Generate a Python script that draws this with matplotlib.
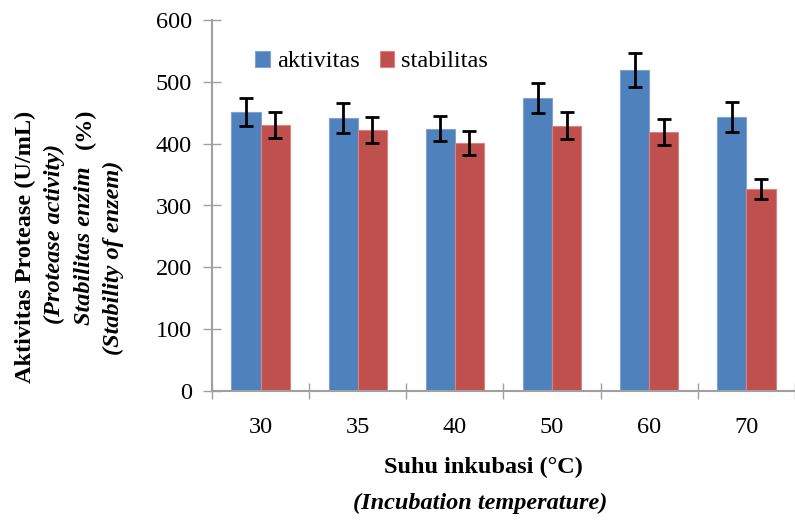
import matplotlib.pyplot as plt
import numpy as np

plt.rcParams['font.family'] = ['Liberation Serif', 'DejaVu Serif']

# data
suhu = ['30', '35', '40', '50', '60', '70']
aktivitas = [451, 442, 424, 474, 519, 443]
aktivitas_err = [23, 24, 20, 24, 27, 24]
stabilitas = [430, 422, 401, 429, 419, 327]
stabilitas_err = [21, 21, 19, 22, 21, 16]

x = np.arange(len(suhu))
w = 0.3
fs = 17.5

fig = plt.figure(figsize=(7.95, 5.2), dpi=100)
ax = fig.add_axes([212/795, 1 - 391/520, (795 - 212)/795, (391 - 20)/520])

err_kw = dict(ecolor='black', elinewidth=2, capsize=5, capthick=2)
ax.bar(x - w/2, aktivitas, w, yerr=aktivitas_err, color='#4F81BD',
       edgecolor='#7FA3D3', linewidth=0.8, label='aktivitas', error_kw=err_kw)
ax.bar(x + w/2, stabilitas, w, yerr=stabilitas_err, color='#C0504D',
       edgecolor='#D98482', linewidth=0.8, label='stabilitas', error_kw=err_kw)

ax.set_ylim(0, 600)
ax.set_yticks(range(0, 601, 100))
ax.set_xlim(-0.5, 5.45)
ax.set_xticks(x)
ax.set_xticklabels(suhu)
ax.set_xticks(np.arange(-0.5, 6, 1), minor=True)

for s in ['top', 'right']:
    ax.spines[s].set_visible(False)
for s in ['left', 'bottom']:
    ax.spines[s].set_color('#A0A0A0')
    ax.spines[s].set_linewidth(1.5)

ax.tick_params(axis='y', direction='inout', length=13, width=1, color='#A0A0A0',
               labelsize=fs, pad=8)
ax.tick_params(axis='x', which='major', length=0, labelsize=fs, pad=19)
ax.tick_params(axis='x', which='minor', direction='inout', length=12, width=1,
               color='#A0A0A0')

ax.legend(loc='upper left', bbox_to_anchor=(0.037, 0.975), ncol=2, frameon=False,
          fontsize=fs, handlelength=0.6, handleheight=0.6, handletextpad=0.3,
          columnspacing=0.8)

# y axis title (four lines)
fig.text(25/795, 1 - 247/520, 'Aktivitas Protease (U/mL)', rotation=90,
         ha='center', va='center', fontsize=fs, fontweight='bold')
fig.text(54/795, 1 - 234/520, '(Protease activity)', rotation=90,
         ha='center', va='center', fontsize=fs, fontweight='bold', style='italic')
fig.text(85/795, 1 - 246/520, 'Stabilitas enzim', rotation=90,
         ha='center', va='center', fontsize=fs, fontweight='bold', style='italic')
fig.text(85/795, 1 - 129/520, '(%)', rotation=90,
         ha='center', va='center', fontsize=fs, fontweight='bold')
fig.text(113/795, 1 - 258/520, '(Stability of enzem)', rotation=90,
         ha='center', va='center', fontsize=fs, fontweight='bold', style='italic')

# x axis title
fig.text(483/795, 1 - 467/520, 'Suhu inkubasi (°C)', ha='center', va='center',
         fontsize=fs, fontweight='bold')
fig.text(480/795, 1 - 503/520, '(Incubation temperature)', ha='center',
         va='center', fontsize=fs, fontweight='bold', style='italic')

fig.savefig('out.png', dpi=100)
